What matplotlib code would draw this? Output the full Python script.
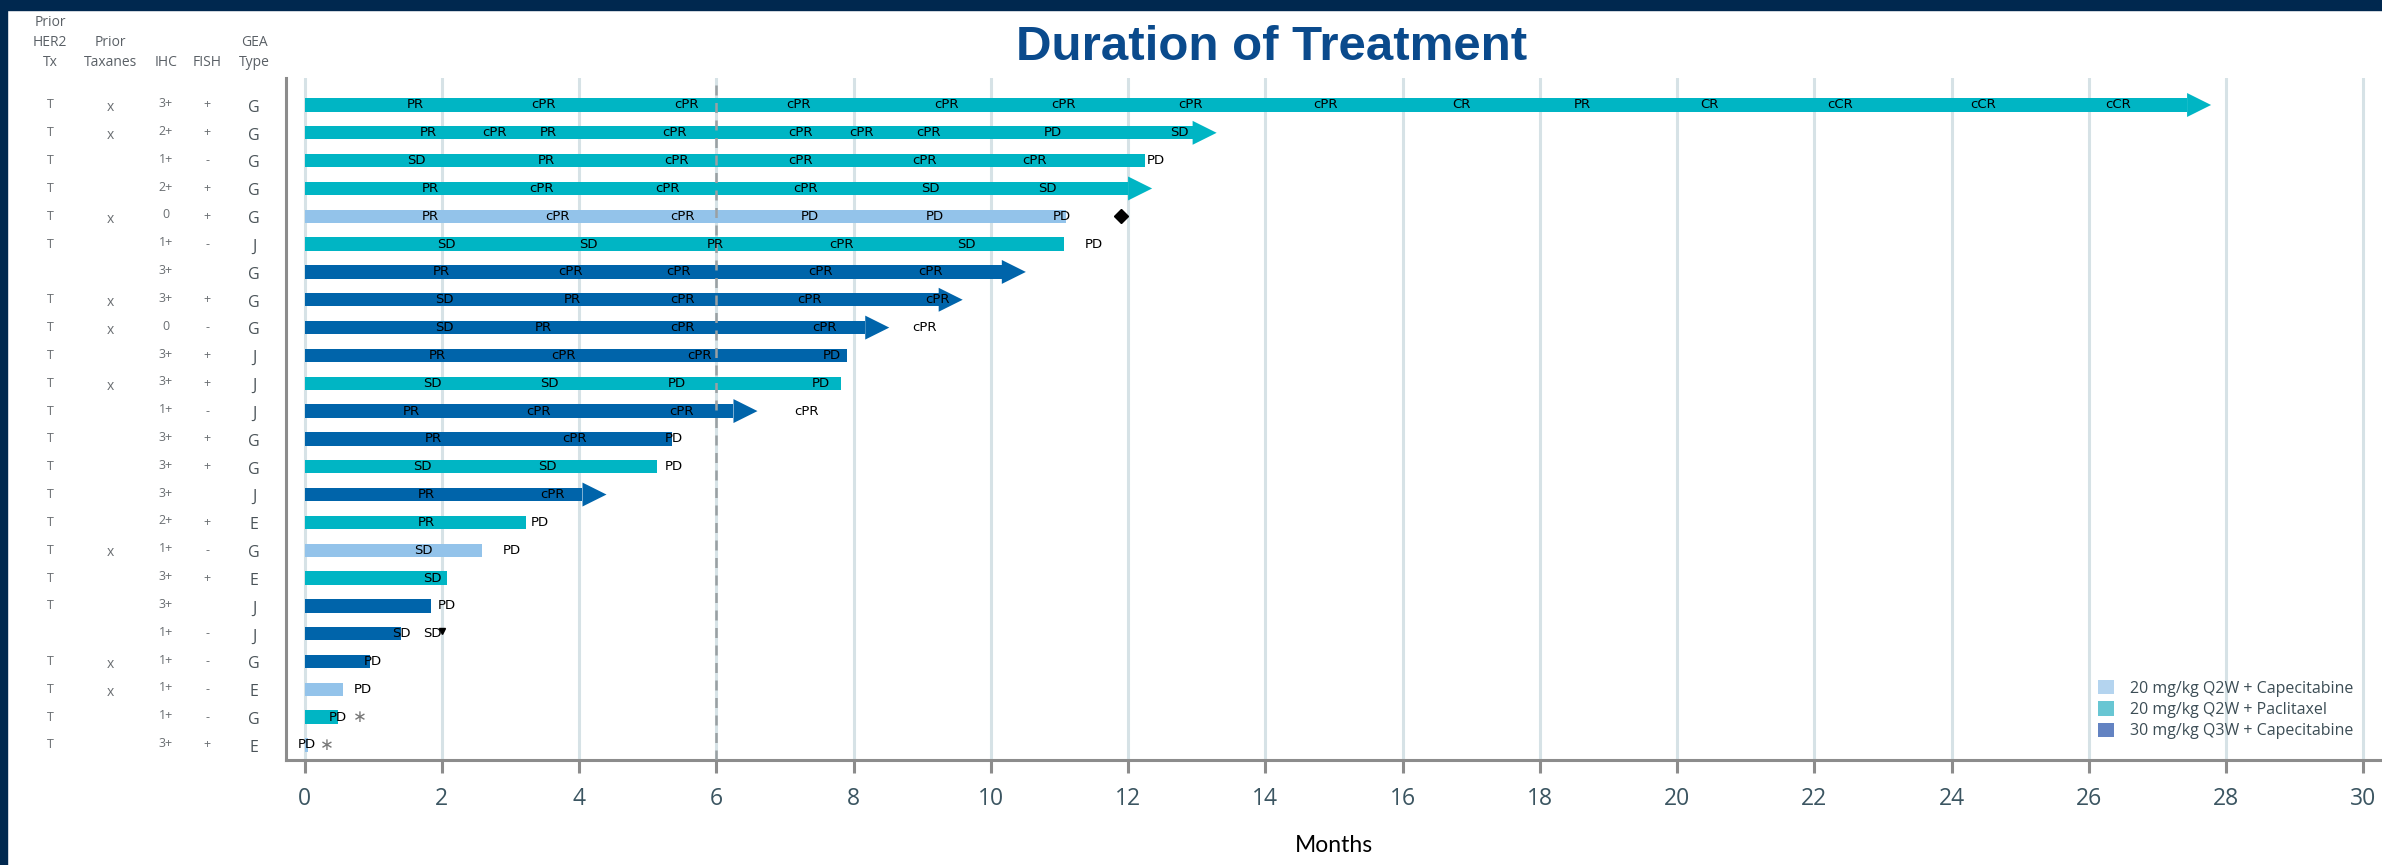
import matplotlib.pyplot as plt
from matplotlib.patches import Patch, Rectangle
from matplotlib.transforms import blended_transform_factory

plt.rcParams['font.family'] = ['Open Sans', 'DejaVu Sans']

# patient table (one entry per row, top to bottom)
prior_her2 = ['T', 'T', 'T', 'T', 'T', 'T', '', 'T', 'T', 'T', 'T', 'T',
              'T', 'T', 'T', 'T', 'T', 'T', 'T', '', 'T', 'T', 'T', 'T']
prior_taxanes = ['x', 'x', '', '', 'x', '', '', 'x', 'x', '', 'x', '',
                 '', '', '', '', 'x', '', '', '', 'x', 'x', '', '']
ihc = ['3+', '2+', '1+', '2+', '0', '1+', '3+', '3+', '0', '3+', '3+', '1+',
       '3+', '3+', '3+', '2+', '1+', '3+', '3+', '1+', '1+', '1+', '1+', '3+']
fish = ['+', '+', '-', '+', '+', '-', '', '+', '-', '+', '+', '-',
        '+', '+', '', '+', '-', '+', '', '-', '-', '-', '-', '+']
gea_type = ['G', 'G', 'G', 'G', 'G', 'J', 'G', 'G', 'G', 'J', 'J', 'J',
            'G', 'G', 'J', 'E', 'G', 'E', 'J', 'J', 'G', 'E', 'G', 'E']

# treatment cohort per row
cohort = ['pac20', 'pac20', 'pac20', 'pac20', 'cap20', 'pac20', 'cap30', 'cap30',
          'cap30', 'cap30', 'pac20', 'cap30', 'cap30', 'pac20', 'cap30', 'pac20',
          'cap20', 'pac20', 'cap30', 'cap30', 'cap30', 'cap20', 'pac20', 'cap20']

# duration of treatment (months) and whether still ongoing (arrow)
duration = [27.43, 12.94, 12.25, 12.0, 11.1, 11.06, 10.16, 9.24, 8.17, 7.91, 7.82, 6.25,
            5.36, 5.13, 4.05, 3.22, 2.59, 2.07, 1.84, 1.41, 0.96, 0.56, 0.49, 0.05]
ongoing = [True, True, False, True, False, False, True, True, True, False, False, True,
           False, False, True, False, False, False, False, False, False, False, False, False]

# response assessments (month, label)
responses = [
    [(1.61, 'PR'), (3.48, 'cPR'), (5.56, 'cPR'), (7.20, 'cPR'), (9.36, 'cPR'), (11.06, 'cPR'),
     (12.91, 'cPR'), (14.88, 'cPR'), (16.85, 'CR'), (18.62, 'PR'), (20.47, 'CR'),
     (22.37, 'cCR'), (24.46, 'cCR'), (26.42, 'cCR')],
    [(1.80, 'PR'), (2.77, 'cPR'), (3.55, 'PR'), (5.39, 'cPR'), (7.22, 'cPR'), (8.11, 'cPR'),
     (9.09, 'cPR'), (10.9, 'PD'), (12.74, 'SD')],
    [(1.63, 'SD'), (3.52, 'PR'), (5.42, 'cPR'), (7.22, 'cPR'), (9.03, 'cPR'), (10.63, 'cPR'),
     (12.40, 'PD')],
    [(1.84, 'PR'), (3.45, 'cPR'), (5.29, 'cPR'), (7.30, 'cPR'), (9.12, 'SD'), (10.83, 'SD')],
    [(1.84, 'PR'), (3.68, 'cPR'), (5.50, 'cPR'), (7.36, 'PD'), (9.19, 'PD'), (11.03, 'PD')],
    [(2.06, 'SD'), (4.14, 'SD'), (5.98, 'PR'), (7.82, 'cPR'), (9.65, 'SD'), (11.5, 'PD')],
    [(2.0, 'PR'), (3.87, 'cPR'), (5.45, 'cPR'), (7.52, 'cPR'), (9.12, 'cPR')],
    [(2.04, 'SD'), (3.9, 'PR'), (5.5, 'cPR'), (7.36, 'cPR'), (9.22, 'cPR')],
    [(2.04, 'SD'), (3.48, 'PR'), (5.5, 'cPR'), (7.57, 'cPR'), (9.03, 'cPR')],
    [(1.94, 'PR'), (3.77, 'cPR'), (5.75, 'cPR'), (7.68, 'PD')],
    [(1.86, 'SD'), (3.57, 'SD'), (5.42, 'PD'), (7.52, 'PD')],
    [(1.55, 'PR'), (3.41, 'cPR'), (5.49, 'cPR'), (7.32, 'cPR')],
    [(1.88, 'PR'), (3.94, 'cPR'), (5.38, 'PD')],
    [(1.71, 'SD'), (3.54, 'SD'), (5.38, 'PD')],
    [(1.77, 'PR'), (3.61, 'cPR')],
    [(1.77, 'PR'), (3.43, 'PD')],
    [(1.73, 'SD'), (3.02, 'PD')],
    [(1.86, 'SD')],
    [(2.07, 'PD')],
    [(1.41, 'SD'), (1.86, 'SD')],
    [(0.99, 'PD')],
    [(0.85, 'PD')],
    [(0.49, 'PD')],
    [(0.03, 'PD')],
]

# extra symbols: (row, month, kind)
symbols = [(4, 11.9, 'diamond'), (19, 2.0, 'triangle'), (22, 0.80, 'star'), (23, 0.33, 'star')]

bar_colors = {'cap20': '#93c3ea', 'pac20': '#00b5c4', 'cap30': '#0064aa'}
legend_labels = ['20 mg/kg Q2W + Capecitabine', '20 mg/kg Q2W + Paclitaxel',
                 '30 mg/kg Q3W + Capecitabine']
legend_colors = ['#b4d4ef', '#68c6d3', '#6383c2']

xticks = list(range(0, 31, 2))

fig = plt.figure(figsize=(23.82, 8.65), dpi=100)
fig.patches.append(Rectangle((0, 1 - 10 / 865), 1, 10 / 865, transform=fig.transFigure,
                             color='#00284f', zorder=10))
fig.patches.append(Rectangle((0, 0), 7 / 2382, 1, transform=fig.transFigure,
                             color='#00284f', zorder=10))

ax = fig.add_axes([286 / 2382, 105 / 865, 1 - 286 / 2382, 682 / 865])
ax.set_xlim(-0.27, 30.27)
ax.set_ylim(23.54, -0.97)

rows = list(range(len(duration)))
colors = [bar_colors[c] for c in cohort]
ax.barh(rows, duration, height=0.48, left=0, color=colors, zorder=2)

head_len = 0.35
head_half = 0.43
for i in rows:
    if ongoing[i]:
        d = duration[i]
        ax.fill([d, d + head_len, d], [i - head_half, i, i + head_half],
                color=colors[i], lw=0, zorder=2)

bar_font = ['Liberation Sans Narrow', 'DejaVu Sans']
for i, resp in enumerate(responses):
    for x, lab in resp:
        ax.text(x, i, lab, ha='center', va='center', fontsize=9.5, family=bar_font,
                color='black', zorder=5)

for r, x, kind in symbols:
    if kind == 'diamond':
        ax.plot(x, r, marker='D', ms=7, color='black', zorder=5)
    elif kind == 'triangle':
        ax.plot(x, r - 0.1, marker='v', ms=5, color='black', zorder=5)
    else:
        ax.text(x, r, '\u2217', ha='center', va='center', fontsize=12,
                family='DejaVu Sans', color='#777777', zorder=5)

ax.axvline(6, color='#9aa0a3', lw=1.8, ls=(0, (4, 3)), zorder=4)

ax.set_xticks(xticks)
ax.set_yticks([])
ax.grid(axis='x', color='#d6e2e6', lw=2.2)
ax.set_axisbelow(True)
for s in ['top', 'right']:
    ax.spines[s].set_visible(False)
for s in ['left', 'bottom']:
    ax.spines[s].set_color('#8c8c8c')
    ax.spines[s].set_linewidth(2.2)
ax.tick_params(axis='x', length=9.5, width=2.2, color='#8c8c8c', labelsize=16.5,
               labelcolor='#3b5561', pad=10)

ax.set_xlabel('Months', fontsize=16.5, family=['Lato', 'DejaVu Sans'], color='black')
ax.xaxis.label.set_va('center')
ax.xaxis.set_label_coords(0.5, (760 - 845) / 682)

# left-hand table
trans = blended_transform_factory(fig.transFigure, ax.transData)
col_x = [50 / 2382, 110 / 2382, 166 / 2382, 207 / 2382, 254 / 2382]
for i in rows:
    ax.text(col_x[0], i, prior_her2[i], transform=trans, ha='center', va='center',
            fontsize=9, color='#6a6e72', clip_on=False)
    ax.text(col_x[1], i + 0.1, prior_taxanes[i], transform=trans, ha='center', va='center',
            fontsize=10, color='#6a6e72', clip_on=False)
    ax.text(col_x[2], i - 0.05, ihc[i], transform=trans, ha='center', va='center',
            fontsize=9, color='#6a6e72', clip_on=False)
    ax.text(col_x[3], i, fish[i], transform=trans, ha='center', va='center',
            fontsize=9, color='#6a6e72', clip_on=False)
    ax.text(col_x[4], i + 0.1, gea_type[i], transform=trans, ha='center', va='center',
            fontsize=11.5, color='#4a5358', clip_on=False)

headers = [['Prior', 'HER2', 'Tx'], ['Prior', 'Taxanes'], ['IHC'], ['FISH'], ['GEA', 'Type']]
line_y = [1 - 63 / 865, 1 - 43 / 865, 1 - 23 / 865]
for cx, lines in zip(col_x, headers):
    for k, txt in enumerate(reversed(lines)):
        fig.text(cx, line_y[k], txt, ha='center', va='center', fontsize=10, color='#5a6066')

fig.text(1272 / 2382, 1 - 47 / 865, 'Duration of Treatment', ha='center', va='center',
         fontsize=35.5, weight='bold', color='#0a4a8c', family=['Liberation Sans', 'DejaVu Sans'])

handles = [Patch(facecolor=c, edgecolor='none', label=l) for c, l in zip(legend_colors, legend_labels)]
ax.legend(handles=handles, loc='upper left', bbox_to_anchor=(2098 / 2382, 1 - 680 / 865),
          bbox_transform=fig.transFigure, frameon=False, fontsize=11.5, handlelength=1.0,
          handleheight=1.0, handletextpad=1.0, labelspacing=0.3, borderpad=0,
          borderaxespad=0, labelcolor='#3c4d55')

fig.savefig('out.png', dpi=100, facecolor='white')
